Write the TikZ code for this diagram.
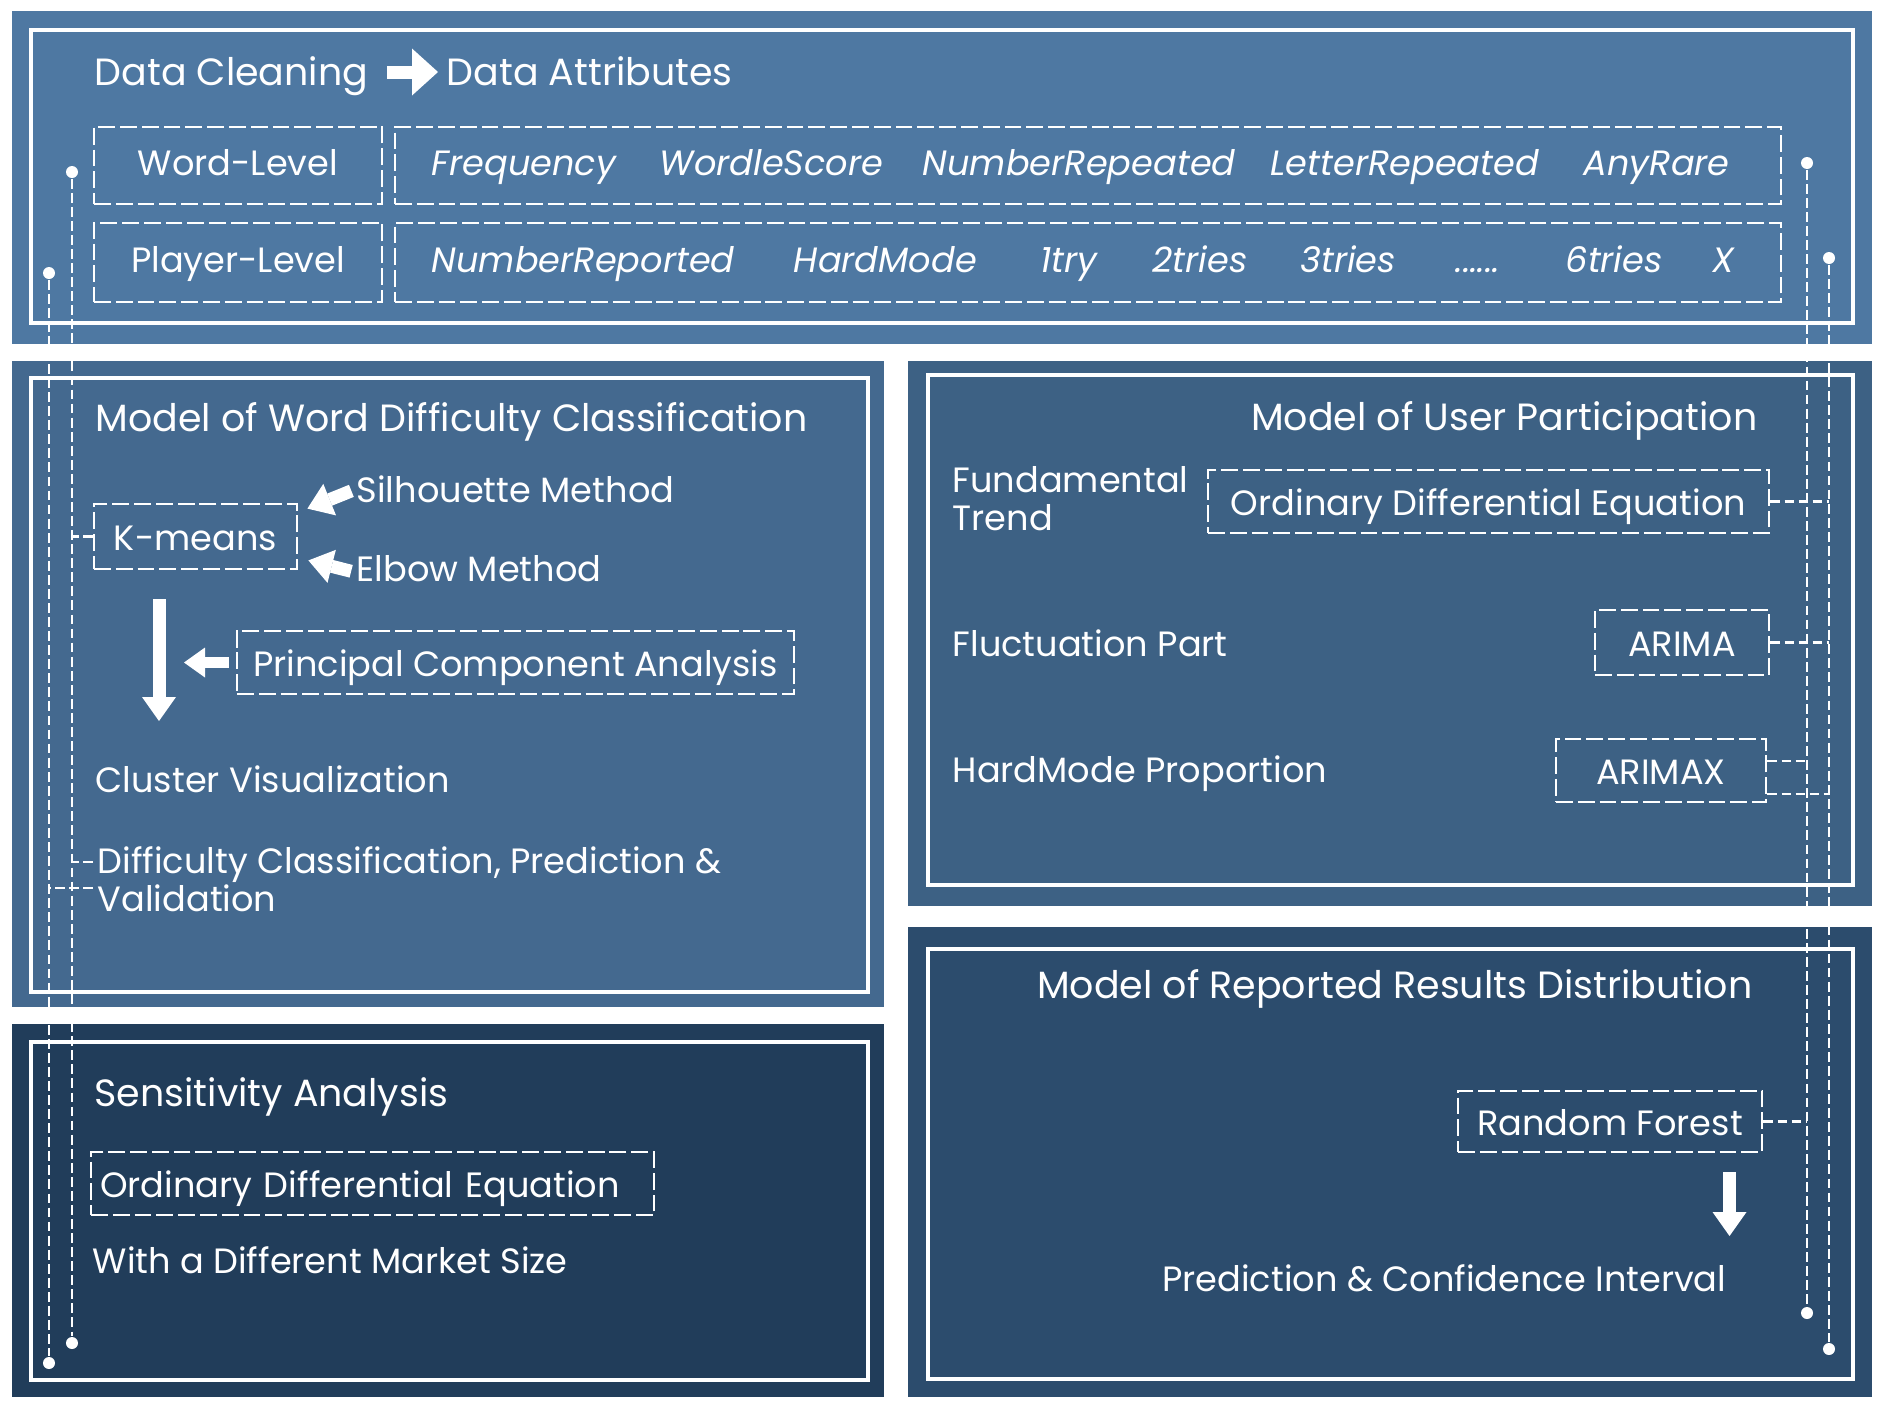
\documentclass[tikz,border=0pt]{standalone}
\usepackage{fontspec}
\setmainfont{Poppins}
\usetikzlibrary{arrows.meta}
\definecolor{topblue}{HTML}{4E78A2}
\definecolor{wordblue}{HTML}{44698F}
\definecolor{userblue}{HTML}{3D6184}
\definecolor{resultblue}{HTML}{2C4C6D}
\definecolor{sensblue}{HTML}{213D5A}

\begin{document}
\begin{tikzpicture}[
    panelframe/.style={draw=white, line width=1.4pt},
    txt/.style={text=white, inner sep=0pt, anchor=west, text height=0.28cm, text depth=0.01cm, font=\fontsize{10}{10.6}\selectfont},
    ttl/.style={txt, font=\fontsize{10.8}{12}\selectfont},
    attr/.style={txt, font=\fontsize{10}{10.6}\selectfont\itshape},
    txtml/.style={text=white, inner sep=0pt, anchor=base west, align=left, font=\fontsize{10}{10.6}\selectfont},
    dbox/.style={draw=white, line width=0.8pt, dash pattern=on 4.8pt off 1.4pt, text=white, inner sep=0pt, text height=0.28cm, text depth=0.01cm, font=\fontsize{10}{10.6}\selectfont},
    link/.style={draw=white, line width=0.75pt, dash pattern=on 2.8pt off 1.2pt},
    enddot/.style={circle, fill=white, inner sep=0pt, minimum size=0.12cm},
    bigarrow/.style={draw=white, line width=0.13cm, -{Triangle[width=0.34cm,length=0.24cm,line width=0pt]}}]
   \useasboundingbox (0,0) rectangle (18.89,-14.17);
   % panels
   \fill[topblue] (0.12,-0.11) rectangle (18.72,-3.44);
   \fill[wordblue] (0.12,-3.61) rectangle (8.84,-10.07);
   \fill[sensblue] (0.12,-10.24) rectangle (8.84,-13.97);
   \fill[userblue] (9.08,-3.61) rectangle (18.72,-9.06);
   \fill[resultblue] (9.08,-9.27) rectangle (18.72,-13.97);
   \draw[panelframe] (0.31,-0.30) rectangle (18.53,-3.23);
   \draw[panelframe] (0.31,-3.78) rectangle (8.68,-9.92);
   \draw[panelframe] (0.31,-10.42) rectangle (8.68,-13.80);
   \draw[panelframe] (9.28,-3.75) rectangle (18.53,-8.85);
   \draw[panelframe] (9.28,-9.49) rectangle (18.53,-13.79);

   % data attributes
   \node[ttl] (dclean) at (0.94,-0.72) {Data Cleaning};
   \node[ttl] (dattr) at (4.46,-0.72) {Data Attributes};
   \draw[bigarrow, -{Triangle[width=0.47cm,length=0.26cm,line width=0pt]}, shorten <=0.18cm, shorten >=0.08cm] (dclean) -- (dattr);
   \node[dbox, text depth=0.09cm, minimum width=2.88cm, minimum height=0.77cm] (wlev) at (2.38,-1.655) {Word-Level};
   \node[dbox, text depth=0.09cm, minimum width=2.88cm, minimum height=0.79cm] (plev) at (2.38,-2.625) {Player-Level};
   \node[dbox, minimum width=13.86cm, minimum height=0.77cm] (wattr) at (10.88,-1.655) {};
   \node[dbox, minimum width=13.86cm, minimum height=0.79cm] (pattr) at (10.88,-2.625) {};
   \node[attr] (freq) at (4.31,-1.62) {Frequency};
   \node[attr] (wscore) at (6.59,-1.62) {WordleScore};
   \node[attr] (nrep) at (9.22,-1.62) {NumberRepeated};
   \node[attr] (lrep) at (12.70,-1.62) {LetterRepeated};
   \node[attr] (rare) at (15.83,-1.62) {AnyRare};
   \node[attr] (nrepd) at (4.31,-2.59) {NumberReported};
   \node[attr] (hmode) at (7.93,-2.59) {HardMode};
   \node[attr] (try1) at (10.40,-2.59) {1try};
   \node[attr] (try2) at (11.52,-2.59) {2tries};
   \node[attr] (try3) at (13.00,-2.59) {3tries};
   \node[attr] (tryd) at (14.55,-2.59) {......};
   \node[attr] (try6) at (15.65,-2.59) {6tries};
   \node[attr] (tryx) at (17.12,-2.59) {X};

   % word difficulty
   \node[ttl] (wdtitle) at (0.95,-4.18) {Model of Word Difficulty Classification};
   \node[dbox, minimum width=2.03cm, minimum height=0.65cm] (kmeans) at (1.955,-5.365) {K-means};
   \node[txt] (sil) at (3.56,-4.89) {Silhouette Method};
   \node[txt] (elb) at (3.56,-5.675) {Elbow Method};
   \draw[bigarrow, shorten <=0.05cm] (sil.west) -- ([shift={(0.09,-0.06)}]kmeans.north east);
   \draw[bigarrow, shorten <=0.05cm] ([yshift=-0.05cm]elb.west) -- ([shift={(0.10,0.10)}]kmeans.south east);
   \node[dbox, minimum width=5.57cm, minimum height=0.63cm] (pca) at (5.155,-6.625) {Principal Component Analysis};
   \coordinate (kout) at (1.59,-5.99);
   \coordinate (cvin) at (1.59,-7.21);
   \draw[bigarrow] (kout) -- (cvin);
   \draw[bigarrow, line width=0.11cm, -{Triangle[width=0.30cm,length=0.21cm,line width=0pt]}, shorten <=0.07cm] (pca.west) -- ([xshift=0.25cm]pca.west -| kout);
   \node[txt] (cviz) at (0.95,-7.79) {Cluster Visualization};
   \node[txtml] (dcp) at (0.97,-9.11) {Difficulty Classification, Prediction \&\\Validation};
   \coordinate (dcpa) at (0.93,-8.62);
   \coordinate (dcpb) at (0.93,-8.88);

   % sensitivity
   \node[ttl] (sens) at (0.94,-10.93) {Sensitivity Analysis};
   \node[dbox, minimum width=5.63cm, minimum height=0.63cm, align=left, text width=5.45cm] (odes) at (3.725,-11.835) {Ordinary Differential Equation};
   \node[txt] (msize) at (0.92,-12.60) {With a Different Market Size};

   % user participation
   \node[ttl, anchor=east] (uptitle) at (17.58,-4.17) {Model of User Participation};
   \node[txtml] (ftrend) at (9.52,-5.30) {Fundamental\\Trend};
   \node[dbox, minimum width=5.61cm, minimum height=0.63cm] (odeu) at (14.885,-5.015) {Ordinary Differential Equation};
   \node[txt] (fluct) at (9.52,-6.43) {Fluctuation Part};
   \node[dbox, minimum width=1.74cm, minimum height=0.65cm] (arima) at (16.82,-6.425) {ARIMA};
   \node[txt] (hmprop) at (9.52,-7.69) {HardMode Proportion};
   \node[dbox, minimum width=2.10cm, minimum height=0.63cm] (arimax) at (16.61,-7.705) {ARIMAX};
   \coordinate (axa) at ([yshift=0.095cm]arimax.east);
   \coordinate (axb) at ([yshift=-0.235cm]arimax.east);

   % reported results
   \node[ttl, anchor=east] (rrtitle) at (17.53,-9.85) {Model of Reported Results Distribution};
   \node[dbox, minimum width=3.04cm, minimum height=0.61cm] (rf) at (16.10,-11.215) {Random Forest};
   \node[txt, anchor=east] (pci) at (17.27,-12.78) {Prediction \& Confidence Interval};
   \coordinate (rfout) at (17.295,-11.72);
   \coordinate (pciin) at (17.295,-12.36);
   \draw[bigarrow] (rfout) -- (pciin);

   % dashed links
   \node[enddot] (wtop) at (0.72,-1.72) {};
   \node[enddot] (wbot) at (0.72,-13.43) {};
   \node[enddot] (ptop) at (0.49,-2.73) {};
   \node[enddot] (pbot) at (0.49,-13.63) {};
   \node[enddot] (uwtop) at (18.07,-1.63) {};
   \node[enddot] (uwbot) at (18.07,-13.13) {};
   \node[enddot] (uptop) at (18.29,-2.58) {};
   \node[enddot] (upbot) at (18.29,-13.49) {};
   \draw[link] (wtop) -- (wbot);
   \draw[link] (ptop) -- (pbot);
   \draw[link] (uwtop) -- (uwbot);
   \draw[link] (uptop) -- (upbot);
   \draw[link] (kmeans.west) -- (kmeans.west -| wtop);
   \draw[link] (dcpa) -- (dcpa -| wtop);
   \draw[link] (dcpb) -- (dcpb -| ptop);
   \draw[link] (odeu.east) -- (odeu.east -| uptop);
   \draw[link] (arima.east) -- (arima.east -| uptop);
   \draw[link] (axa) -- (axa -| uwtop);
   \draw[link] (axb) -- (axb -| uptop);
   \draw[link] (rf.east) -- (rf.east -| uwtop);
\end{tikzpicture}
\end{document}
